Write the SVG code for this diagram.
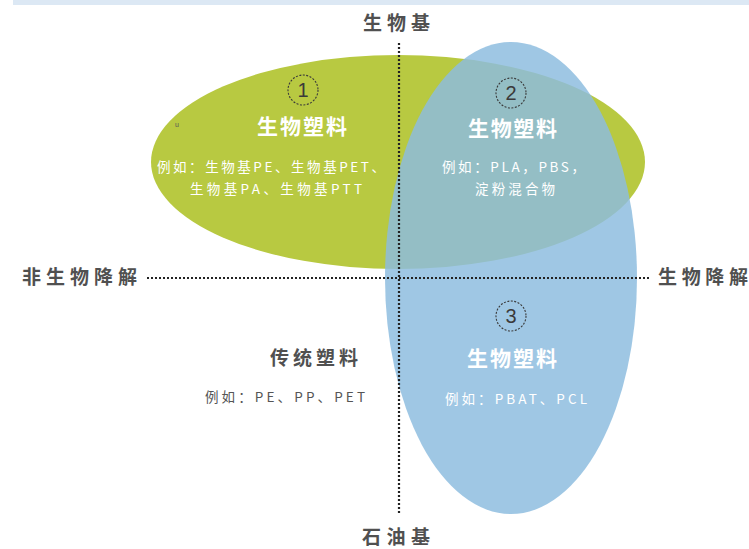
<svg xmlns="http://www.w3.org/2000/svg" width="749" height="549" viewBox="0 0 749 549">
<style>
.ax{font-family:"Noto Sans CJK SC","Liberation Sans",sans-serif;font-weight:bold;fill:#505050;font-size:19px}
.t{font-family:"Noto Sans CJK SC","Liberation Sans",sans-serif;font-weight:bold;fill:#ffffff;font-size:21px}
.s{font-family:"Noto Sans CJK SC","Liberation Sans",sans-serif;fill:#ffffff;font-size:13.5px}
.n{font-family:"Liberation Sans",sans-serif;fill:#3a3a3a;font-size:20px;text-anchor:middle}
.c{fill:none;stroke:#3a3a3a;stroke-width:1.1;stroke-dasharray:2 1.5}
.dl{stroke:#222;stroke-width:2.2;stroke-dasharray:2 2;fill:none}
</style>
<rect x="13" y="0" width="736" height="5" fill="#dce8f4"/>
<g id="green">
<ellipse cx="398" cy="162" rx="247" ry="107" fill="#b8c941"/>
</g>
<g id="blue">
<ellipse cx="511" cy="278" rx="126" ry="236" fill="#8dbcdf" fill-opacity="0.84"/>
</g>
<g id="connectors">
<line class="dl" x1="399" y1="43" x2="399" y2="513"/>
<line class="dl" x1="147" y1="278" x2="650" y2="278"/>
</g>
<g id="axis-top"><text class="ax" x="363" y="30" textLength="67" lengthAdjust="spacing">生物基</text></g>
<g id="axis-bottom"><text class="ax" x="362" y="544" textLength="68" lengthAdjust="spacing">石油基</text></g>
<g id="axis-left"><text class="ax" x="22" y="284" textLength="115" lengthAdjust="spacing">非生物降解</text></g>
<g id="axis-right"><text class="ax" x="658" y="284" textLength="90" lengthAdjust="spacing">生物降解</text></g>
<g id="q1">
<circle class="c" cx="303" cy="90" r="15"/>
<text class="n" x="303" y="97">1</text>
<text class="t" x="257" y="134" textLength="90" lengthAdjust="spacing">生物塑料</text>
<text class="s" x="157" y="172" textLength="228" lengthAdjust="spacing">例如：生物基PE、生物基PET、</text>
<text class="s" x="190" y="194" textLength="172" lengthAdjust="spacing">生物基PA、生物基PTT</text>
<text x="177" y="127" font-family="Liberation Sans,sans-serif" font-size="7" fill="#555" text-anchor="middle">u</text>
</g>
<g id="q2">
<circle class="c" cx="511" cy="93" r="15"/>
<text class="n" x="511" y="100">2</text>
<text class="t" x="468" y="136" textLength="89" lengthAdjust="spacing">生物塑料</text>
<text class="s" x="442" y="172" textLength="143" lengthAdjust="spacing">例如：PLA，PBS，</text>
<text class="s" x="475" y="194" textLength="80" lengthAdjust="spacing">淀粉混合物</text>
</g>
<g id="q3">
<circle class="c" cx="511" cy="316" r="15"/>
<text class="n" x="511" y="323">3</text>
<text class="t" x="467" y="366" textLength="90" lengthAdjust="spacing">生物塑料</text>
<text class="s" x="445" y="404" textLength="142" lengthAdjust="spacing">例如：PBAT、PCL</text>
</g>
<g id="q4">
<text class="ax" x="270" y="365" font-size="21" textLength="88" lengthAdjust="spacing">传统塑料</text>
<text x="205" y="402" font-family="Noto Sans CJK SC,Liberation Sans,sans-serif" font-size="13.5" fill="#555" textLength="160" lengthAdjust="spacing">例如：PE、PP、PET</text>
</g>
</svg>
